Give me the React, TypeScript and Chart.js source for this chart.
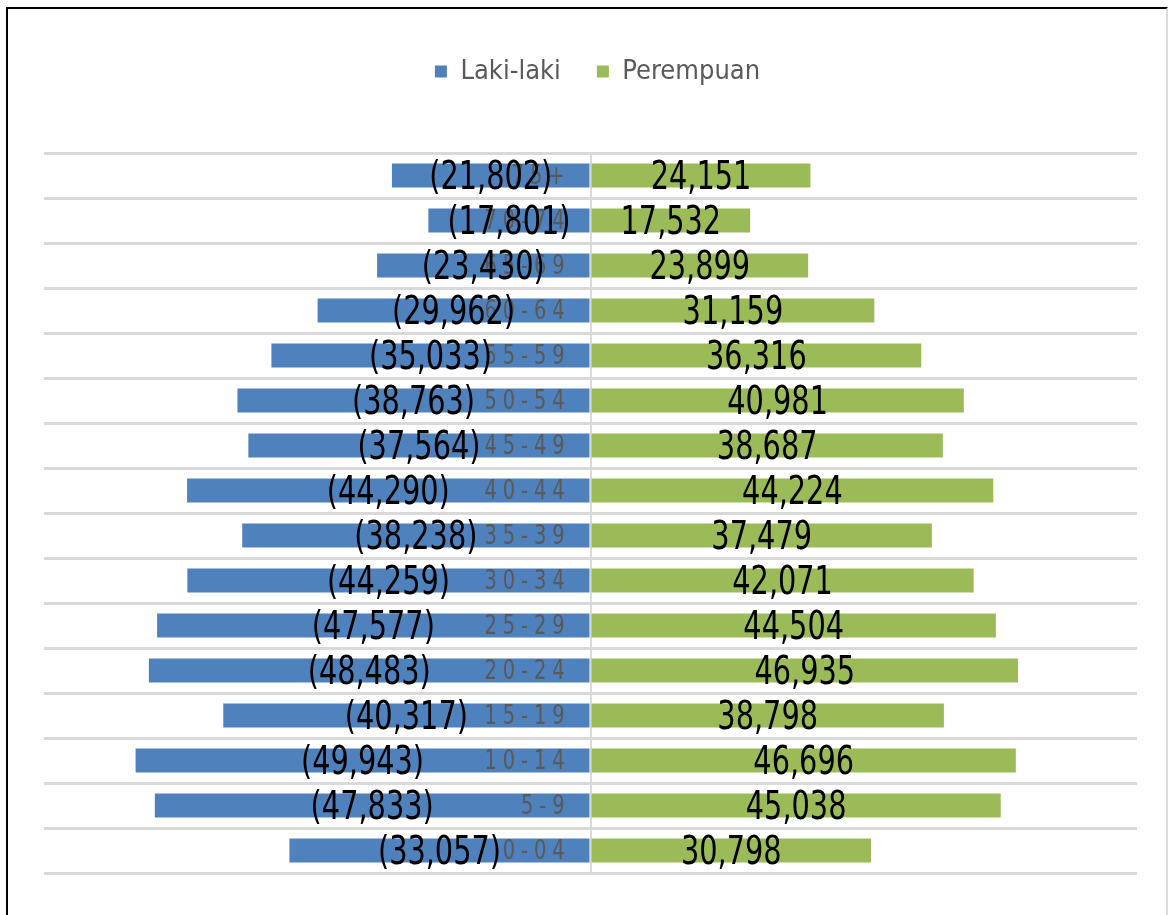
import { useEffect, useRef } from 'react';
import { Chart, registerables } from 'chart.js';

Chart.register(...registerables);

const categories = ['75+', '70-74', '65-69', '60-64', '55-59', '50-54', '45-49', '40-44', '35-39', '30-34', '25-29', '20-24', '15-19', '10-14', '5-9', '0-04'];
const maleValues = [-21802, -17801, -23430, -29962, -35033, -38763, -37564, -44290, -38238, -44259, -47577, -48483, -40317, -49943, -47833, -33057];
const femaleValues = [24151, 17532, 23899, 31159, 36316, 40981, 38687, 44224, 37479, 42071, 44504, 46935, 38798, 46696, 45038, 30798];
const seriesNames = ['Laki-laki', 'Perempuan'];

const FONT = "'DejaVu Sans Condensed', 'DejaVu Sans', sans-serif";

const fmt = (v: number) => {
  const s = Math.abs(v).toLocaleString('en-US');
  return v < 0 ? `(${s})` : s;
};

const drawScaled = (ctx: CanvasRenderingContext2D, text: string, x: number, y: number, sx: number) => {
  ctx.save();
  ctx.translate(x, y);
  ctx.scale(sx, 1);
  ctx.fillText(text, 0, 0);
  ctx.restore();
};

export default function App() {
  const ref = useRef<HTMLCanvasElement | null>(null);

  useEffect(() => {
    document.body.style.margin = '0';
    const canvas = ref.current;
    if (!canvas) return;

    const legendSpacer = {
      id: 'legendSpacer',
      beforeInit(chart: any) {
        const lg = chart.legend;
        if (!lg) return;
        const origFit = lg.fit;
        lg.fit = function () {
          origFit.call(this);
          this.height = 131;
        };
        const origDraw = lg.draw;
        lg.draw = function () {
          const c = chart.ctx;
          c.save();
          c.translate(7, 0);
          origDraw.call(this);
          c.restore();
        };
      },
    };

    const labelsPlugin = {
      id: 'pyramidLabels',
      afterDatasetsDraw(chart: any) {
        const ctx = chart.ctx as CanvasRenderingContext2D;
        const xs = chart.scales.x;
        const ys = chart.scales.y;
        const x0 = xs.getPixelForValue(0);
        ctx.save();
        ctx.font = `27px ${FONT}`;
        ctx.fillStyle = '#595959';
        ctx.textAlign = 'right';
        ctx.textBaseline = 'middle';
        (ctx as any).letterSpacing = '7.4px';
        chart.data.labels.forEach((c: string, i: number) => {
          drawScaled(ctx, c, x0 - 20, ys.getPixelForValue(i) + 1, 0.8);
        });
        (ctx as any).letterSpacing = '0px';
        ctx.font = `39px ${FONT}`;
        ctx.fillStyle = '#000000';
        ctx.textAlign = 'center';
        chart.data.datasets.forEach((ds: any, di: number) => {
          const meta = chart.getDatasetMeta(di);
          meta.data.forEach((bar: any, i: number) => {
            const p = bar.getProps(['x', 'y', 'base'], true);
            const cx = (p.x + p.base) / 2;
            drawScaled(ctx, fmt(ds.data[i]), cx, p.y + 3, 0.82);
          });
        });
        ctx.restore();
      },
    };

    const chart = new Chart(canvas, {
      type: 'bar',
      data: {
        labels: categories,
        datasets: [
          { label: seriesNames[0], data: maleValues, backgroundColor: '#4F81BD', borderWidth: 0, barPercentage: 0.533, categoryPercentage: 1 },
          { label: seriesNames[1], data: femaleValues, backgroundColor: '#9BBB59', borderWidth: 0, barPercentage: 0.533, categoryPercentage: 1 },
        ],
      },
      options: {
        indexAxis: 'y',
        responsive: false,
        animation: false,
        devicePixelRatio: 1,
        layout: { padding: { left: 44, right: 35, top: 22, bottom: 42 } },
        scales: {
          x: {
            stacked: true,
            min: -60000,
            max: 60000,
            ticks: { display: false, stepSize: 10000 },
            border: { display: false },
            grid: {
              drawTicks: false,
              lineWidth: 2,
              color: (c: any) => (c.tick && c.tick.value === 0 ? '#d9d9d9' : 'rgba(0,0,0,0)'),
            },
          },
          y: {
            stacked: true,
            ticks: { display: false },
            border: { display: false },
            grid: { drawTicks: false, offset: true, color: '#d9d9d9', lineWidth: 3 },
          },
        },
        plugins: {
          tooltip: { enabled: false },
          legend: {
            position: 'top',
            labels: {
              boxWidth: 12,
              boxHeight: 12,
              padding: 36,
              color: '#595959',
              font: { family: FONT, size: 27 },
            },
          },
        },
      },
      plugins: [legendSpacer, labelsPlugin],
    });

    return () => chart.destroy();
  }, []);

  return (
    <div style={{ position: 'relative', width: 1172, height: 915, overflow: 'hidden', background: '#fff' }}>
      <div
        style={{
          position: 'absolute',
          left: 6,
          top: 7,
          width: 1162,
          height: 920,
          borderLeft: '2px solid #000',
          borderTop: '2px solid #000',
          borderRight: '2px solid #dcdcdc',
          boxSizing: 'border-box',
        }}
      />
      <canvas ref={ref} width={1172} height={915} style={{ position: 'absolute', left: 0, top: 0 }} />
    </div>
  );
}
